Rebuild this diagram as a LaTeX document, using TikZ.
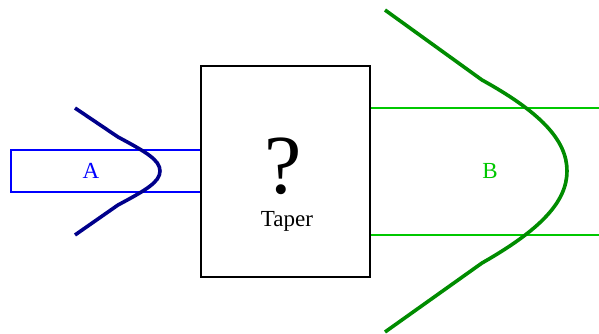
\documentclass[tikz,border=0pt]{standalone}
\usepackage{fontspec}
\setmainfont{Liberation Serif}
\definecolor{bblue}{RGB}{0,0,255}
\definecolor{navyc}{RGB}{0,0,139}
\definecolor{lgreen}{RGB}{0,200,0}
\definecolor{dgreen}{RGB}{0,140,0}
\begin{document}
\begin{tikzpicture}[x=1pt,y=-1pt,
  guide/.style={draw=bblue,line width=2.3pt,inner sep=0pt,minimum width=190pt,minimum height=42pt},
  taperbox/.style={draw=black,line width=2.3pt,inner sep=0pt,minimum width=169pt,minimum height=211pt},
  lbl/.style={inner sep=0pt,font=\fontsize{23}{25}\selectfont},
  wave/.style={line width=3.6pt,line join=round}]
\useasboundingbox (0,0) rectangle (599,334);
\node[guide] (A) at (106,171) {};
\node[lbl,text=bblue] (Alab) at (91,171) {A};
\node[taperbox] (T) at (285.5,171.5) {};
\node[inner sep=0pt,font=\fontsize{84}{86}\selectfont] (Q) at (283,166) {?};
\node[lbl] (Tlab) at (287,221) {Taper};
\coordinate (g1) at (599,108);
\coordinate (g2) at (599,235);
\draw[lgreen,line width=2.3pt] (T.east |- g1) -- (g1);
\draw[lgreen,line width=2.3pt] (T.east |- g2) -- (g2);
\node[lbl,text=lgreen] (Blab) at (490,171) {B};
\draw[wave,navyc] (75,108) -- (118,137) .. controls (146,152) and (160,160) .. (160,171)
  .. controls (160,182) and (146,190) .. (118,205) -- (75,235);
\draw[wave,dgreen] (385,10) -- (482,80) .. controls (540,112) and (567,140) .. (567,171)
  .. controls (567,202) and (540,230) .. (482,263) -- (385,332);
\end{tikzpicture}
\end{document}
